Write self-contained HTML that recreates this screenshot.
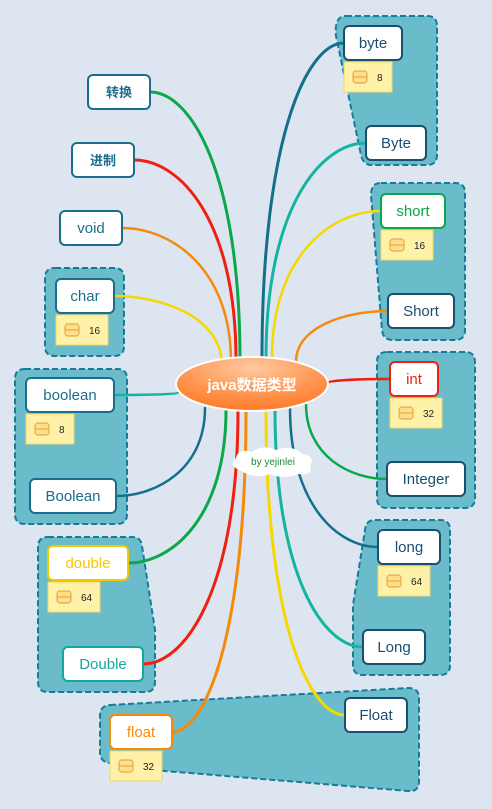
<!DOCTYPE html>
<html><head><meta charset="utf-8">
<style>
html,body{margin:0;padding:0;background:#dde5f1;}
svg{display:block;}
text{font-family:"Liberation Sans","Noto Sans CJK SC",sans-serif;}
</style></head>
<body>
<svg id="map" width="492" height="809" viewBox="0 0 492 809" xmlns="http://www.w3.org/2000/svg">
<defs>
<radialGradient id="cg" cx="50%" cy="20%" r="80%">
<stop offset="0" stop-color="#ffc9a0"/><stop offset="0.6" stop-color="#ff9550"/><stop offset="1" stop-color="#ff7a28"/>
</radialGradient>
</defs>
<rect width="492" height="809" fill="#dde5f1"/>
<g id="bounds" fill="#6bbccb" stroke="#167c98" stroke-width="2" stroke-dasharray="6,3">
<path d="M346,16 H427 Q437,16 437,26 V155 Q437,165 427,165 H372 Q363,165 361,155 L336,36 Q334,16 346,16 Z"/>
<path d="M381,183 H455 Q465,183 465,193 V330 Q465,340 455,340 H393 Q383,340 382,330 L371,195 Q371,183 381,183 Z"/>
<path d="M55,268 H114 Q124,268 124,278 V346 Q124,356 114,356 H55 Q45,356 45,346 V278 Q45,268 55,268 Z"/>
<path d="M25,369 H117 Q127,369 127,379 V514 Q127,524 117,524 H25 Q15,524 15,514 V379 Q15,369 25,369 Z"/>
<path d="M387,352 H465 Q475,352 475,362 V498 Q475,508 465,508 H387 Q377,508 377,498 V362 Q377,352 387,352 Z"/>
<path d="M48,537 H132 Q141,537 142,546 L155,630 V682 Q155,692 145,692 H48 Q38,692 38,682 V547 Q38,537 48,537 Z"/>
<path d="M375,520 H440 Q450,520 450,530 V665 Q450,675 440,675 H363 Q353,675 353,665 V605 L365,530 Q366,520 375,520 Z"/>
<path d="M110,705 L408,688 Q419,688 419,698 V781 Q419,792 408,791 L165,771 L110,763 Q100,762 100,752 V715 Q100,706 110,705 Z"/>
</g>
<g id="links" fill="none" stroke-linecap="round"></g>
<g id="center">
<ellipse cx="252" cy="384" rx="76" ry="27" fill="url(#cg)" stroke="#fff" stroke-width="2"/>
<text x="252" y="390" text-anchor="middle" font-size="15" font-weight="bold" fill="#fff" font-family="Liberation Serif,Noto Serif CJK SC,serif">java数据类型</text>
</g>
<g>
<path d="M240,470 Q228,466 236,458 Q238,448 252,452 Q262,444 276,450 Q292,444 302,454 Q316,456 310,466 Q314,476 298,474 Q284,480 270,474 Q254,480 240,470 Z" fill="#fff"/>
<text x="273" y="465" text-anchor="middle" font-size="10" fill="#1a8a3a">by yejinlei</text>
</g>
<g id="nodes"></g>
</svg>
<script>
const labels=["转换","进制","void","char","boolean","Boolean","double","Double","float","Float","Long","long","Integer","int","Short","short","Byte","byte"];
const boxes=[[88,75,62],[72,143,62],[60,211,62],[56,279,58],[26,378,88],[30,479,86],[48,546,80],[63,647,80],[110,715,62],[345,698,62],[363,630,62],[378,530,62],[387,462,78],[390,362,48],[388,294,66],[381,194,64],[366,126,60],[344,26,58]];
const nodeColors=["#1a6e8c","#1a6e8c","#1a6e8c","#1a6e8c","#1a6e8c","#1a6e8c","#f5c800","#14a89a","#f58a0a","#1a4f70","#1a4f70","#1a4f70","#1a4f70","#f02010","#1a4f70","#0aa84a","#1a4f70","#1a4f70"];
const linkColors=["#0aa84a","#f02010","#f58a0a","#f5d800","#14b4a0","#136f8c","#0aa84a","#f02010","#f58a0a","#f5d800","#14b4a0","#136f8c","#0aa84a","#f02010","#f58a0a","#f5d800","#14b4a0","#136f8c"];
const starts=[[240,360],[236,360],[231,362],[222,366],[178,393],[205,408],[226,410],[238,411],[246,411],[266,411],[275,410],[290,408],[306,404],[327,383],[296,362],[272,358],[266,358],[262,358]];
const valueOf=["","","","16","8","","64","","32","","","64","","32","","16","","8"];
const svgNS="http://www.w3.org/2000/svg";
const links=document.getElementById('links');
const nodes=document.getElementById('nodes');
labels.forEach((t,i)=>{
  const [x,y,w]=boxes[i];const h=34;
  const left=x+w/2<252;
  const ex=left?x+w:x, ey=y+h/2;
  const [sx,sy]=starts[i];
  const p=document.createElementNS(svgNS,'path');
  const c1x=sx,c1y=sy+(ey-sy)*0.7,c2x=ex+(sx-ex)*0.45,c2y=ey;
  p.setAttribute('d',`M${sx},${sy} C${c1x},${c1y} ${c2x},${c2y} ${ex},${ey}`);
  p.setAttribute('stroke',linkColors[i]);
  p.setAttribute('stroke-width',Math.abs(ey-sy)>150?3:2.5);
  
  
  links.appendChild(p);
  const g=document.createElementNS(svgNS,'g');
  
  
  const r=document.createElementNS(svgNS,'rect');
  r.setAttribute('x',x);r.setAttribute('y',y);r.setAttribute('width',w);r.setAttribute('height',h);
  r.setAttribute('rx',5);r.setAttribute('fill','#fff');r.setAttribute('stroke',nodeColors[i]);r.setAttribute('stroke-width',2);
  g.appendChild(r);
  const tx=document.createElementNS(svgNS,'text');
  tx.setAttribute('x',x+w/2);tx.setAttribute('y',y+h/2+5);tx.setAttribute('text-anchor','middle');
  tx.setAttribute('font-size',i<2?13:15);tx.setAttribute('fill',nodeColors[i]);
  if(i<2)tx.setAttribute('font-weight','bold');
  tx.textContent=t;g.appendChild(tx);
  nodes.appendChild(g);
  if(valueOf[i]){
    const vg=document.createElementNS(svgNS,'g');
    
    
    const bx=x,by=y+36,bw=valueOf[i].length>1?52:48;
    vg.innerHTML=`<rect x="${bx}" y="${by}" width="${bw}" height="30" fill="#fff2a8" stroke="#f0d868"/>`+
      `<rect x="${bx+9}" y="${by+9}" width="14" height="12" rx="3" fill="#ffe08a" stroke="#e8a848" stroke-width="1.2"/>`+
      `<line x1="${bx+9}" y1="${by+15}" x2="${bx+23}" y2="${by+15}" stroke="#e8a848" stroke-width="1.2"/>`+
      `<text x="${bx+33}" y="${by+19}" font-size="10" fill="#222">${valueOf[i]}</text>`;
    nodes.appendChild(vg);
  }
});
</script>
</body></html>
